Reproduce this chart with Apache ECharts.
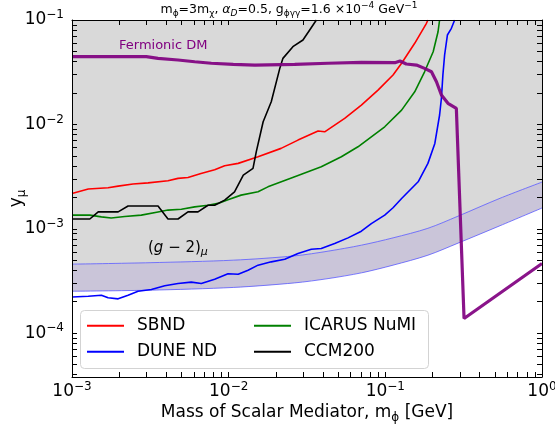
<!DOCTYPE html>
<html>
<head>
<meta charset="utf-8">
<script src="https://cdn.jsdelivr.net/npm/echarts@6/dist/echarts.min.js"></script>
<style>
  html, body { margin: 0; padding: 0; background: #fff; }
  #chart { width: 555px; height: 430px; }
</style>
</head>
<body>
<div id="chart"></div>
<script>
// ---- Sensitivity curves: scalar mediator mass [GeV] vs coupling y_mu ----
const sbndMass = [1.00e-3, 1.27e-3, 1.70e-3, 1.97e-3, 2.45e-3, 3.06e-3, 4.10e-3, 4.75e-3, 5.50e-3, 6.66e-3, 8.14e-3, 9.43e-3, 1.15e-2, 1.54e-2, 2.16e-2, 2.77e-2, 3.72e-2, 4.10e-2, 5.50e-2, 7.03e-2, 8.98e-2, 0.112, 0.127, 0.154, 0.183, 0.187];
const sbndY    = [2.18e-3, 2.40e-3, 2.47e-3, 2.56e-3, 2.68e-3, 2.75e-3, 2.88e-3, 3.04e-3, 3.10e-3, 3.39e-3, 3.67e-3, 4.01e-3, 4.23e-3, 4.89e-3, 5.89e-3, 7.07e-3, 8.63e-3, 8.49e-3, 1.14e-2, 1.53e-2, 2.13e-2, 2.97e-2, 3.85e-2, 5.98e-2, 9.30e-2, 0.1];

const icarusMass = [1.00e-3, 1.30e-3, 1.54e-3, 1.78e-3, 2.17e-3, 2.77e-3, 3.54e-3, 4.10e-3, 4.99e-3, 6.07e-3, 7.38e-3, 8.55e-3, 9.90e-3, 1.20e-2, 1.54e-2, 1.78e-2, 2.64e-2, 3.90e-2, 5.24e-2, 6.69e-2, 8.14e-2, 9.91e-2, 0.127, 0.154, 0.178, 0.202, 0.217, 0.222];
const icarusY    = [1.35e-3, 1.35e-3, 1.30e-3, 1.27e-3, 1.31e-3, 1.35e-3, 1.45e-3, 1.51e-3, 1.54e-3, 1.62e-3, 1.68e-3, 1.75e-3, 1.90e-3, 2.10e-3, 2.26e-3, 2.52e-3, 3.15e-3, 3.92e-3, 4.89e-3, 6.10e-3, 7.60e-3, 9.48e-3, 1.37e-2, 2.05e-2, 3.19e-2, 4.97e-2, 7.72e-2, 0.1];

const duneMass = [1.00e-3, 1.27e-3, 1.54e-3, 1.70e-3, 1.97e-3, 2.28e-3, 2.64e-3, 3.21e-3, 3.91e-3, 4.75e-3, 5.77e-3, 6.69e-3, 8.14e-3, 9.90e-3, 1.15e-2, 1.33e-2, 1.54e-2, 1.87e-2, 2.28e-2, 2.77e-2, 3.37e-2, 3.90e-2, 4.75e-2, 5.78e-2, 7.03e-2, 8.14e-2, 9.91e-2, 0.112, 0.127, 0.162, 0.187, 0.207, 0.222, 0.228, 0.233, 0.239, 0.249, 0.264, 0.277];
const duneY    = [2.22e-4, 2.26e-4, 2.31e-4, 2.18e-4, 2.13e-4, 2.31e-4, 2.52e-4, 2.62e-4, 2.84e-4, 2.99e-4, 3.08e-4, 2.99e-4, 3.29e-4, 3.71e-4, 3.67e-4, 4.01e-4, 4.48e-4, 4.82e-4, 5.11e-4, 5.80e-4, 6.37e-4, 6.47e-4, 7.23e-4, 8.18e-4, 9.48e-4, 1.12e-3, 1.35e-3, 1.59e-3, 1.95e-3, 2.82e-3, 4.23e-3, 6.57e-3, 1.23e-2, 1.78e-2, 2.97e-2, 4.62e-2, 7.18e-2, 8.33e-2, 0.1];

const ccmMass = [1.00e-3, 1.30e-3, 1.47e-3, 1.97e-3, 2.28e-3, 3.54e-3, 4.10e-3, 4.75e-3, 5.50e-3, 6.37e-3, 7.38e-3, 8.14e-3, 9.43e-3, 1.09e-2, 1.24e-2, 1.43e-2, 1.50e-2, 1.66e-2, 1.87e-2, 2.12e-2, 2.22e-2, 2.57e-2, 2.98e-2, 3.29e-2, 3.63e-2];
const ccmY    = [1.24e-3, 1.24e-3, 1.45e-3, 1.45e-3, 1.65e-3, 1.65e-3, 1.24e-3, 1.24e-3, 1.45e-3, 1.45e-3, 1.68e-3, 1.68e-3, 1.88e-3, 2.26e-3, 3.27e-3, 3.79e-3, 5.46e-3, 1.06e-2, 1.65e-2, 3.44e-2, 4.29e-2, 5.55e-2, 6.43e-2, 8.02e-2, 0.1];

// Thermal target for fermionic dark matter
const fdmMass = [1.00e-3, 2.98e-3, 3.54e-3, 4.75e-3, 6.07e-3, 7.75e-3, 1.07e-2, 1.47e-2, 2.64e-2, 4.31e-2, 7.03e-2, 0.115, 0.124, 0.136, 0.158, 0.178, 0.197, 0.212, 0.228, 0.251, 0.284, 0.318, 1.0];
const fdmY    = [4.45e-2, 4.45e-2, 4.29e-2, 4.14e-2, 3.98e-2, 3.85e-2, 3.76e-2, 3.70e-2, 3.76e-2, 3.85e-2, 3.93e-2, 3.90e-2, 4.05e-2, 3.79e-2, 3.70e-2, 3.44e-2, 3.19e-2, 2.56e-2, 1.91e-2, 1.59e-2, 1.42e-2, 1.38e-4, 4.65e-4];

// (g-2)_mu preferred band: upper and lower edges
const bandMass  = [1.0e-3, 3.15e-3, 1.07e-2, 2.64e-2, 4.31e-2, 7.03e-2, 0.112, 0.187, 0.291, 0.54, 1.0];
const bandUpper = [4.58e-4, 4.73e-4, 5.00e-4, 5.50e-4, 6.10e-4, 6.96e-4, 8.18e-4, 1.01e-3, 1.32e-3, 1.96e-3, 2.80e-3];
const bandLower = [2.52e-4, 2.58e-4, 2.74e-4, 3.03e-4, 3.33e-4, 3.78e-4, 4.48e-4, 5.58e-4, 7.28e-4, 1.07e-3, 1.58e-3];

// Axis ranges (decades) and tick exponents
const xRange = [1e-3, 1];
const yRange = [3.8e-5, 1e-1];
const xTickExp = [-3, -2, -1, 0];
const yTickExp = [-4, -3, -2, -1];

// ---- helpers ----
const FONT = 'DejaVu Sans';
const lg = Math.log10;
const toXY = (ms, ys) => ms.map((m, i) => [lg(m), lg(ys[i])]);

// decade ticks plus log-style minor ticks k*10^n, k = 2..9
function logTicks(range) {
  const out = [];
  const a = lg(range[0]), b = lg(range[1]);
  for (let n = Math.floor(a); n <= Math.ceil(b); n++) {
    for (let k = 1; k <= 9; k++) {
      const v = lg(k) + n;
      if (v >= a - 1e-9 && v <= b + 1e-9) out.push(v);
    }
  }
  return out;
}

const expText = e => (e < 0 ? '\u2212' + (-e) : String(e));
const tickRich = {
  b: { fontSize: 17, lineHeight: 22, fontFamily: FONT, color: '#000' },
  p: { fontSize: 12, lineHeight: 12, verticalAlign: 'top', fontFamily: FONT, color: '#000' }
};

function makeAxis(dim, pos, opts) {
  const range = dim === 'x' ? xRange : yRange;
  const ax = {
    type: 'value',
    position: pos,
    z: 6,
    min: lg(range[0]),
    max: lg(range[1]),
    axisLine: { show: true, onZero: false, lineStyle: { color: '#000', width: 1 } },
    axisTick: { show: true, inside: true, length: 5, customValues: logTicks(range),
                lineStyle: { color: '#000', width: 1 } },
    axisLabel: { show: false },
    splitLine: { show: false }
  };
  if (opts.labels) {
    ax.axisLabel = {
      show: true,
      customValues: opts.labels,
      margin: opts.margin,
      formatter: v => '{b|10}{p|' + expText(Math.round(v)) + '}',
      rich: tickRich
    };
  }
  if (opts.name) {
    ax.name = opts.name;
    ax.nameLocation = 'middle';
    ax.nameGap = opts.nameGap;
    ax.nameRotate = opts.nameRotate;
    ax.nameMoveOverlap = false;
    ax.nameTextStyle = {
      fontSize: 17, fontFamily: FONT, color: '#000', lineHeight: 22,
      rich: {
        s: { fontSize: 12, lineHeight: 12, verticalAlign: 'bottom', fontFamily: FONT, color: '#000' }
      }
    };
  }
  return ax;
}

const xAxes = [
  makeAxis('x', 'bottom', { labels: xTickExp, margin: 4,
    name: 'Mass of Scalar Mediator, m{s|\u03d5} [GeV]', nameGap: 25 }),
  makeAxis('x', 'top', {})
];
const yAxes = [
  makeAxis('y', 'left', { labels: yTickExp, margin: 8,
    name: 'y{s|\u03bc}', nameGap: 44, nameRotate: 90 }),
  makeAxis('y', 'right', {})
];

const bandEdge = { color: 'rgba(80,80,255,0.75)', width: 1 };

function curve(name, ms, ys, color, width, z) {
  return {
    name, type: 'line', data: toXY(ms, ys),
    showSymbol: false, symbol: 'none', smooth: false,
    lineStyle: { color, width },
    itemStyle: { color },
    z, silent: true, animation: false
  };
}

const series = [
  { type: 'line', data: toXY(bandMass, bandUpper), smooth: 0.3, symbol: 'none',
    lineStyle: { width: 0 }, areaStyle: { color: '#d9d9d9', origin: 'end', opacity: 1 },
    z: 1, silent: true, animation: false },
  { type: 'line', data: toXY(bandMass, bandUpper), smooth: 0.3, symbol: 'none',
    lineStyle: bandEdge, areaStyle: { color: '#cac5d9', origin: 'start', opacity: 1 },
    z: 1, silent: true, animation: false },
  { type: 'line', data: toXY(bandMass, bandLower), smooth: 0.3, symbol: 'none',
    lineStyle: bandEdge, areaStyle: { color: '#ffffff', origin: 'start', opacity: 1 },
    z: 1, silent: true, animation: false },
  curve('SBND', sbndMass, sbndY, '#ff0000', 1.6, 3),
  curve('ICARUS NuMI', icarusMass, icarusY, '#008000', 1.6, 3),
  curve('DUNE ND', duneMass, duneY, '#0000ff', 1.6, 3),
  curve('CCM200', ccmMass, ccmY, '#000000', 1.6, 3),
  curve('Fermionic DM', fdmMass, fdmY, 'rgba(128,0,128,0.92)', 3.2, 4)
];

const legendBase = {
  orient: 'vertical', top: 315.7, padding: 0, itemGap: 6,
  icon: 'rect', itemWidth: 37, itemHeight: 2, selectedMode: false, z: 12,
  textStyle: { fontSize: 17, fontFamily: FONT, color: '#000', lineHeight: 20, padding: [0, 0, 0, 8] }
};

const chart = echarts.init(document.getElementById('chart'), null, { renderer: 'canvas' });
chart.setOption({
  animation: false,
  grid: { left: 72, right: 13, top: 20, bottom: 53, containLabel: false, outerBoundsMode: 'none' },
  xAxis: xAxes,
  yAxis: yAxes,
  series,
  legend: [
    Object.assign({}, legendBase, { left: 87, data: ['SBND', 'DUNE ND'] }),
    Object.assign({}, legendBase, { left: 254, data: ['ICARUS NuMI', 'CCM200'] })
  ],
  graphic: [
    { type: 'rect', left: 80, top: 310, z: 10, silent: true,
      shape: { width: 348, height: 58, r: 4 },
      style: { fill: 'rgba(255,255,255,0.85)', stroke: '#d3d3d3', lineWidth: 1 } },
    { type: 'text', left: 119, top: 39, z: 10, silent: true,
      style: { text: 'Fermionic DM', font: '13px "DejaVu Sans"', fill: '#800080' } },
    { type: 'text', left: 148, top: 238, z: 10, silent: true,
      style: {
        text: '({i|g} \u2212 2){s|\u03bc}',
        font: '15px "DejaVu Sans"', fill: '#000', lineHeight: 20,
        rich: {
          i: { fontStyle: 'italic', fontSize: 15, fontFamily: FONT, lineHeight: 20 },
          s: { fontStyle: 'italic', fontSize: 11, fontFamily: FONT, lineHeight: 11, verticalAlign: 'bottom' }
        }
      } },
    { type: 'text', x: 289, y: 10, z: 10, silent: true,
      style: {
        text: 'm{s|\u03d5}=3m{s|\u03c7}, {i|\u03b1}{si|D}=0.5, g{s|\u03d5\u03b3\u03b3}=1.6 \u00d710{p|\u22124} GeV{p|\u22121}',
        font: '12.5px "DejaVu Sans"', fill: '#000', align: 'center', verticalAlign: 'middle', lineHeight: 17,
        rich: {
          s: { fontSize: 9, lineHeight: 9, verticalAlign: 'bottom', fontFamily: FONT },
          si: { fontSize: 9, lineHeight: 9, verticalAlign: 'bottom', fontFamily: FONT, fontStyle: 'italic' },
          i: { fontSize: 12.5, lineHeight: 17, fontFamily: FONT, fontStyle: 'italic' },
          p: { fontSize: 9, lineHeight: 9, verticalAlign: 'top', fontFamily: FONT }
        }
      } }
  ]
});
</script>
</body>
</html>
